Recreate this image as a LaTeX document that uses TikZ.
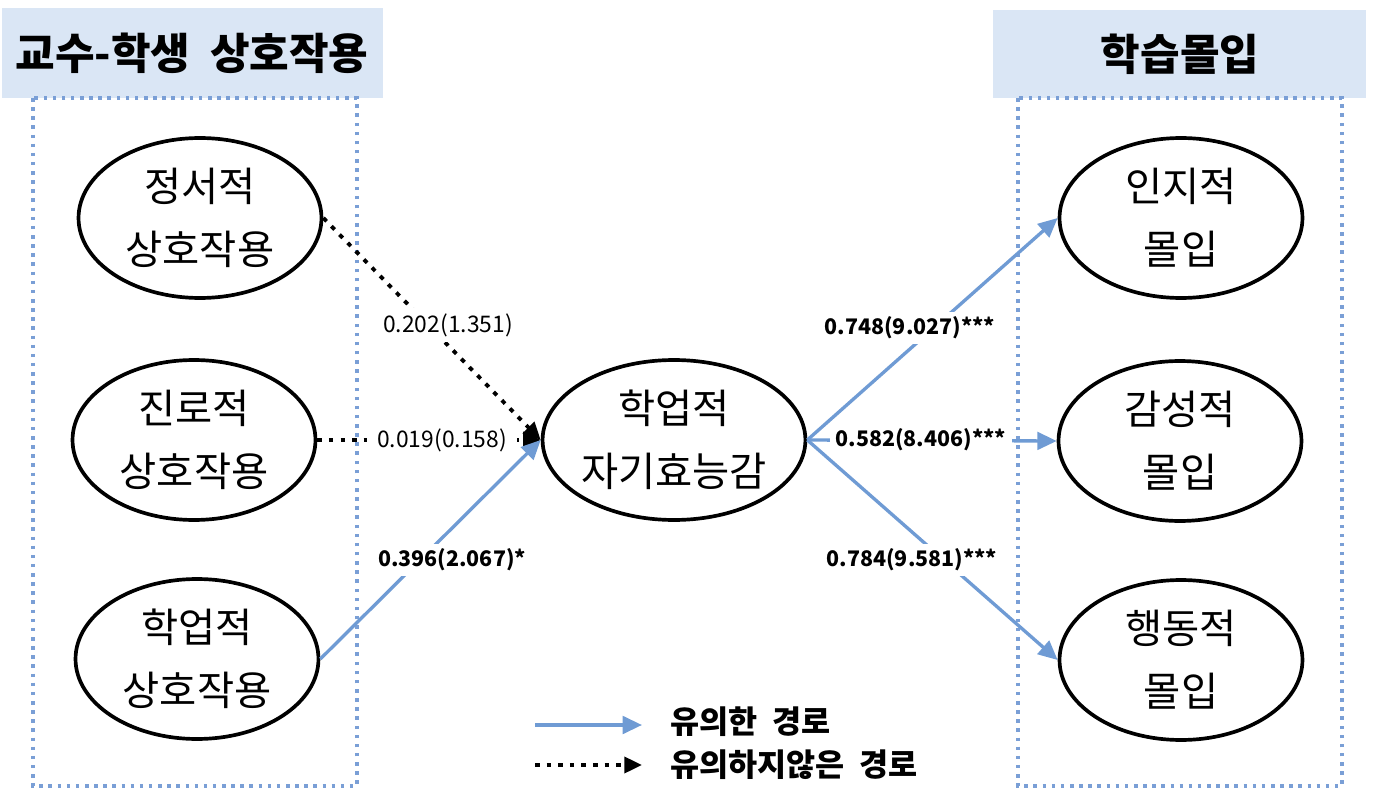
\documentclass[tikz,border=0pt]{standalone}
\usepackage{fontspec}
\setmainfont{Noto Sans CJK KR}
\usetikzlibrary{arrows.meta,shapes.geometric,positioning}

\definecolor{pathblue}{HTML}{6F9BD4}
\definecolor{boxblue}{HTML}{7A9FD6}
\definecolor{hdrfill}{HTML}{DAE6F5}

\tikzset{
	construct/.style={ellipse, draw=black, line width=2.1pt, inner sep=0pt,
		minimum width=4.86cm, minimum height=3.2cm, align=center,
		font=\fontsize{23}{36}\selectfont},
	header/.style={fill=hdrfill, inner sep=0pt, font=\fontsize{24.5}{28}\selectfont\bfseries},
	groupbox/.style={draw=boxblue, line width=1.9pt, dash pattern=on 2pt off 3.2pt},
	sigpath/.style={draw=pathblue, line width=1.9pt,
		-{Triangle[length=11pt, width=10pt]}},
	nonsig/.style={draw=black, line width=2.2pt, dash pattern=on 2.6pt off 4pt,
		-{Triangle[length=10pt, width=9pt]}},
	coef/.style={fill=white, inner xsep=6pt, inner ysep=3pt, font=\fontsize{13}{15}\selectfont},
	coefsig/.style={coef, font=\fontsize{12.2}{15}\selectfont\bfseries},
	legtxt/.style={anchor=west, inner sep=0pt, font=\fontsize{18}{21}\selectfont\bfseries}
}

\begin{document}
\begin{tikzpicture}[x=0.02cm, y=-0.02cm]

	\useasboundingbox (0,0) rectangle (1374,794);

	% --- Group headers ---
	\fill[hdrfill] (2,8) rectangle (383,98);
	\fill[hdrfill] (993,10) rectangle (1366,98);
	\node[header] (hdrL) at (192,53) {교수-학생\ \ 상호작용};
	\node[header] (hdrR) at (1180,54) {학습몰입};

	% --- Group boxes ---
	\draw[groupbox] (33,98) rectangle (357,786);
	\draw[groupbox] (1018,98) rectangle (1342,786);

	% --- Constructs ---
	% Left column: interaction types
	\node[construct] (emo) at (200,218) {정서적\\상호작용};
	\node[construct] (car) at (194,440) {진로적\\상호작용};
	\node[construct] (aca) at (197,659) {학업적\\상호작용};

	% Mediator
	\node[construct] (ase) at (674,440) {학업적\\자기효능감};

	% Right column: engagement types
	\node[construct] (cog) at (1181,218) {인지적\\몰입};
	\node[construct] (aff) at (1180,441) {감성적\\몰입};
	\node[construct] (beh) at (1181,660) {행동적\\몰입};

	% --- Paths ---
	\draw[nonsig] (emo.east) -- (ase.west);
	\draw[nonsig] (car.east) -- (ase.west);
	\draw[sigpath] (aca.east) -- (ase.west);

	\draw[sigpath] (ase.east) -- (cog.west);
	\draw[sigpath] (ase.east) -- (aff.west);
	\draw[sigpath] (ase.east) -- (beh.west);

	% --- Path coefficients ---
	\node[coef] (cEmo) at (448,325) {0.202(1.351)};
	\node[coef] (cCar) at (442,440) {0.019(0.158)};
	\node[coefsig] (cAca) at (452,560) {0.396(2.067)*};

	\node[coefsig] (cCog) at (910,328) {0.748(9.027)***};
	\node[coefsig, anchor=west, inner xsep=3pt] (cAff) at (830,440) {0.582(8.406)***\hspace{18pt}};
	\node[coefsig] (cBeh) at (912,560) {0.784(9.581)***};

	% --- Legend ---
	\coordinate (sigS) at (535,725);
	\coordinate (sigE) at (642,725);
	\coordinate (nsS) at (535,765);
	\coordinate (nsE) at (642,765);
	\draw[sigpath] (sigS) -- (sigE);
	\draw[nonsig] (nsS) -- (nsE);
	\node[legtxt] (sigT) at (670,722) {유의한\ \ 경로};
	\node[legtxt] (nsT) at (670,765) {유의하지않은\ \ 경로};

\end{tikzpicture}
\end{document}
